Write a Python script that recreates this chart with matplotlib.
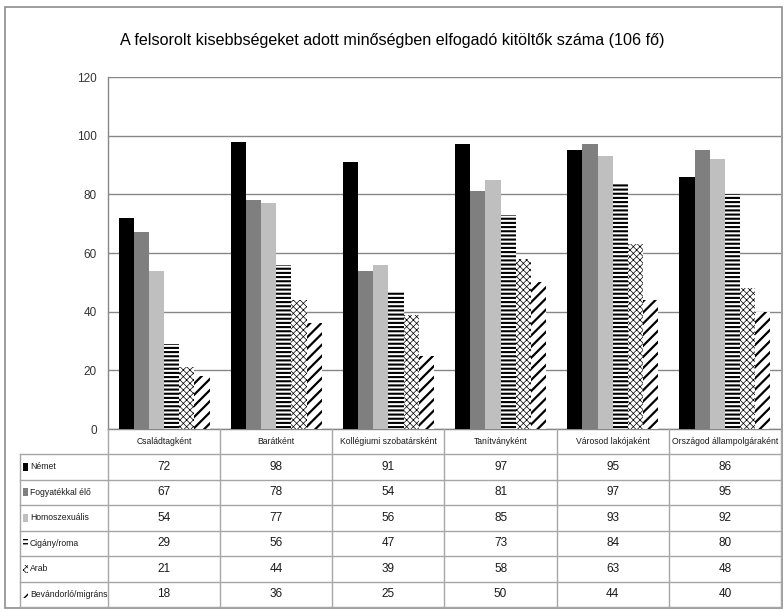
import matplotlib
matplotlib.use("Agg")
import matplotlib.pyplot as plt
import matplotlib.patches as mpatches
from matplotlib import font_manager
import numpy as np


# ─────────────────────────────────────────────
#  DATA
# ─────────────────────────────────────────────
categories = ["Családtagként", "Barátként", "Kollégiumi szobatársként",
              "Tanítványként", "Városod lakójaként", "Országod állampolgáraként"]
series_names = ["Német", "Fogyatékkal élő", "Homoszexuális",
                "Cigány/roma", "Arab", "Bevándorló/migráns"]
nemet = [72, 98, 91, 97, 95, 86]
fogyatekkal = [67, 78, 54, 81, 97, 95]
homoszexualis = [54, 77, 56, 85, 93, 92]
cigany = [29, 56, 47, 73, 84, 80]
arab = [21, 44, 39, 58, 63, 48]
bevandorlo = [18, 36, 25, 50, 44, 40]
y_ticks = [0, 20, 40, 60, 80, 100, 120]
title = "A felsorolt kisebbségeket adott minőségben elfogadó kitöltők száma (106 fő)"

series_values = [nemet, fogyatekkal, homoszexualis, cigany, arab, bevandorlo]

# fill style for each series: (facecolor, hatch, hatch linewidth)
styles = [
    ("#000000", None, 1.0),
    ("#7f7f7f", None, 1.0),
    ("#bfbfbf", None, 1.0),
    ("white", "----", 1.5),
    ("white", "xxxxx", 0.5),
    ("white", "///", 1.6),
]

# ── font: narrow face if present ──
names = {f.name for f in font_manager.fontManager.ttflist}
if "Liberation Sans Narrow" in names:
    FONT, k = "Liberation Sans Narrow", 1.0
elif "Liberation Sans" in names:
    FONT, k = "Liberation Sans", 0.82
else:
    FONT, k = "DejaVu Sans", 0.75
plt.rcParams["font.family"] = [FONT, "DejaVu Sans"]

W, H = 784, 610
GRID = "#878787"
LINE = "#a6a6a6"
TXT = "#1a1a1a"

fig = plt.figure(figsize=(W / 100, H / 100), dpi=100)

# plot area in pixels
x0, x1 = 108, 781
y_top, y_zero = 77, 429

ax = fig.add_axes([x0 / W, (H - y_zero) / H, (x1 - x0) / W, (y_zero - y_top) / H])
ax.set_xlim(0, len(categories))
ax.set_ylim(0, 120)
ax.set_yticks(y_ticks)
ax.set_xticks([])
ax.tick_params(axis="y", length=0, pad=8, labelsize=8.5, colors="#333333")
ax.yaxis.grid(True, color=GRID, linewidth=1.0)
ax.set_axisbelow(True)
for s in ("top", "right"):
    ax.spines[s].set_visible(False)
for s in ("left", "bottom"):
    ax.spines[s].set_color(GRID)
    ax.spines[s].set_linewidth(1.0)


def hatched(patch, hlw):
    if hasattr(patch, "set_hatch_linewidth"):
        patch.set_hatch_linewidth(hlw)


bw = 0.135
idx = np.arange(len(categories))
for j, (vals, (fc, hatch, hlw)) in enumerate(zip(series_values, styles)):
    with plt.rc_context({"hatch.linewidth": hlw}):
        bars = ax.bar(idx + 0.5 + (j - 2.5) * bw, vals, width=bw, color=fc,
                      edgecolor="black", linewidth=0, hatch=hatch, zorder=3)
    if hatch:
        for b in bars:
            hatched(b, hlw)

# ── overlay in pixel coords: frame, title, data table ──
ov = fig.add_axes([0, 0, 1, 1])
ov.set_xlim(0, W)
ov.set_ylim(H, 0)
ov.axis("off")

ov.add_patch(mpatches.Rectangle((5, 7), 777, 601, fill=False,
                                edgecolor="#8c8c8c", linewidth=1.2))
ov.text(W / 2, 41, title, ha="center", va="center", fontsize=14.2 * k, color="black")

ncat = len(categories)
col_w = (x1 - x0) / ncat
row_top = 454
row_h = 25.5
nrow = len(series_names)
tab_left = 20
tab_bottom = row_top + row_h * nrow

# vertical separators
for c in range(ncat + 1):
    xx = x0 + c * col_w
    ov.plot([xx, xx], [y_zero, tab_bottom], color=LINE, lw=1.0)
ov.plot([tab_left, tab_left], [row_top, tab_bottom], color=LINE, lw=1.0)
# horizontal lines
for r in range(nrow + 1):
    yy = row_top + r * row_h
    ov.plot([tab_left, x1], [yy, yy], color=LINE, lw=1.0)

# category header row
for c, name in enumerate(categories):
    ov.text(x0 + (c + 0.5) * col_w, (y_zero + row_top) / 2, name,
            ha="center", va="center", fontsize=7.6 * k, color=TXT)

# rows: legend key + name + values
for r, (name, vals, (fc, hatch, hlw)) in enumerate(zip(series_names, series_values, styles)):
    yc = row_top + (r + 0.5) * row_h
    with plt.rc_context({"hatch.linewidth": min(hlw, 1.0)}):
        key = mpatches.Rectangle((23, yc - 4), 5.5, 8, facecolor=fc, edgecolor="black",
                                 linewidth=0, hatch=hatch)
    if hatch:
        hatched(key, min(hlw, 1.0))
    ov.add_patch(key)
    ov.text(30, yc, name, ha="left", va="center", fontsize=7.6 * k, color=TXT)
    for c, v in enumerate(vals):
        ov.text(x0 + (c + 0.5) * col_w, yc, str(v), ha="center", va="center",
                fontsize=8.5, color=TXT)

fig.savefig("out.png", dpi=100)
plt.close(fig)
